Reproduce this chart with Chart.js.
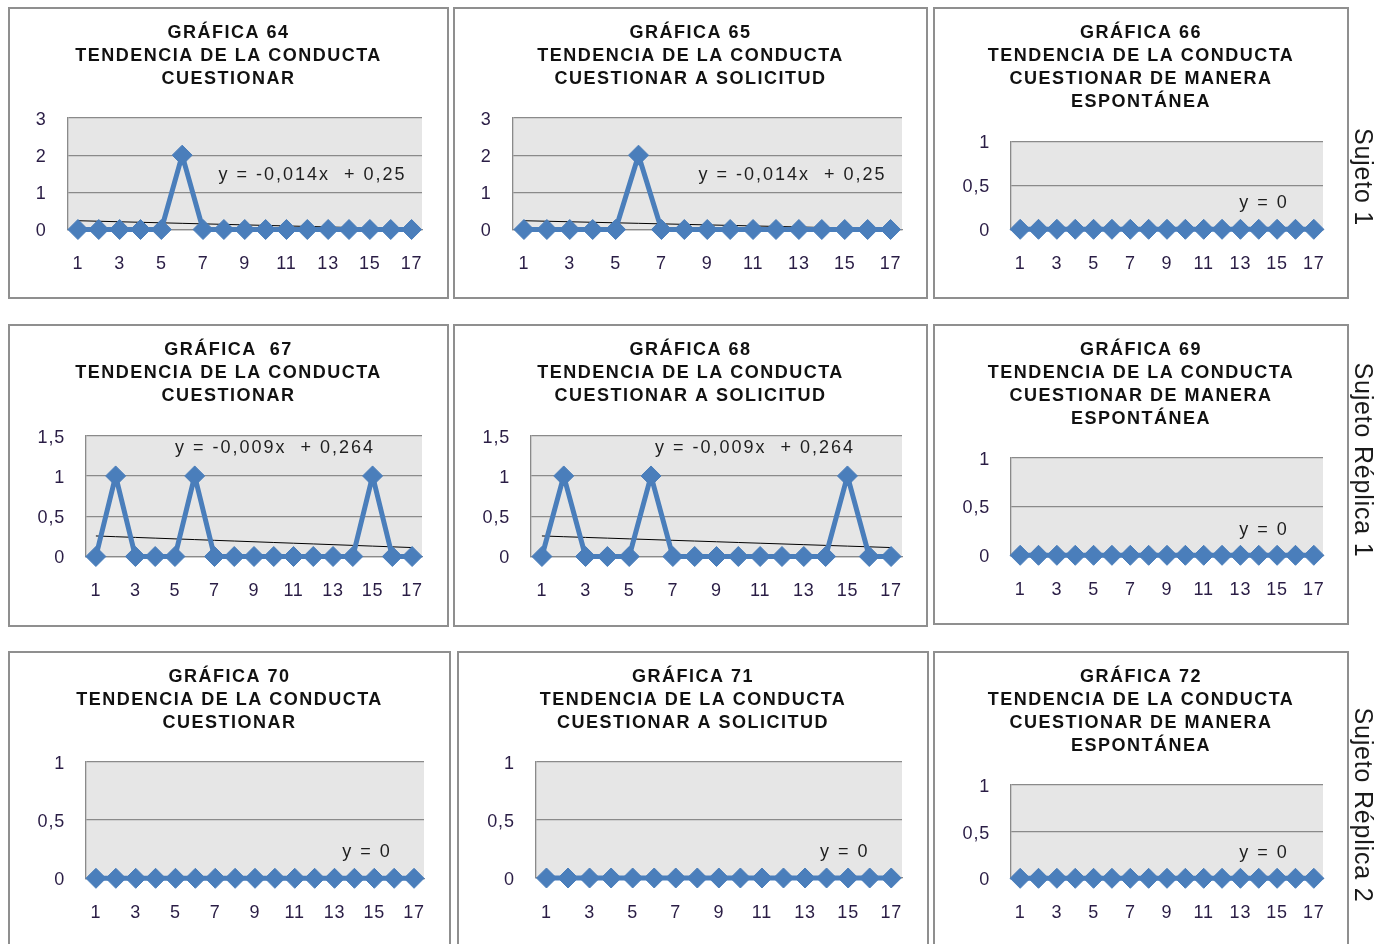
<!DOCTYPE html>
<html lang="es">
<head>
<meta charset="utf-8">
<title>Tendencia de la conducta cuestionar</title>
<script src="https://cdn.jsdelivr.net/npm/chart.js@4.4.1/dist/chart.umd.min.js"></script>
<style>
  html, body { margin: 0; padding: 0; background: #fff; width: 1376px; height: 944px; overflow: hidden; }
  .panel { position: absolute; }
  .panel canvas { position: absolute; left: 0; top: 0; }
  .frame { position: absolute; left: 0; top: 0; right: 0; bottom: 0; border: 2px solid #8f8f8f; box-sizing: border-box; pointer-events: none; }
  .subject { position: absolute; font-family: 'Liberation Sans', Arial, sans-serif; font-size: 25px; letter-spacing: 0.8px; color: #1a1a1a; white-space: nowrap; transform: translate(-50%, -50%) rotate(90deg); }
</style>
</head>
<body>
<script>
// Sessions on the x axis and the ones that carry a printed label
const sessions = ['1','2','3','4','5','6','7','8','9','10','11','12','13','14','15','16','17'];
const shownSessions = ['1','3','5','7','9','11','13','15','17'];

// Frequency of the behaviour per session
const g64 = [0,0,0,0,0,2,0,0,0,0,0,0,0,0,0,0,0];
const g65 = [0,0,0,0,0,2,0,0,0,0,0,0,0,0,0,0,0];
const g66 = [0,0,0,0,0,0,0,0,0,0,0,0,0,0,0,0,0];
const g67 = [0,1,0,0,0,1,0,0,0,0,0,0,0,0,1,0,0];
const g68 = [0,1,0,0,0,1,0,0,0,0,0,0,0,0,1,0,0];
const g69 = [0,0,0,0,0,0,0,0,0,0,0,0,0,0,0,0,0];
const g70 = [0,0,0,0,0,0,0,0,0,0,0,0,0,0,0,0,0];
const g71 = [0,0,0,0,0,0,0,0,0,0,0,0,0,0,0,0,0];
const g72 = [0,0,0,0,0,0,0,0,0,0,0,0,0,0,0,0,0];

// Linear trend of each graph (slope, intercept)
const trendSlopes     = [-0.014, -0.014, 0, -0.009, -0.009, 0, 0, 0, 0];
const trendIntercepts = [0.25, 0.25, 0, 0.264, 0.264, 0, 0, 0, 0];

// Y axis ranges: maximum and step
const yMaxima = [3, 3, 1, 1.5, 1.5, 1, 1, 1, 1];
const ySteps  = [1, 1, 0.5, 0.5, 0.5, 0.5, 0.5, 0.5, 0.5];

// Titles
const titles = [
  ['GRÁFICA 64', 'TENDENCIA DE LA CONDUCTA', 'CUESTIONAR'],
  ['GRÁFICA 65', 'TENDENCIA DE LA CONDUCTA', 'CUESTIONAR A SOLICITUD'],
  ['GRÁFICA 66', 'TENDENCIA DE LA CONDUCTA', 'CUESTIONAR DE MANERA', 'ESPONTÁNEA'],
  ['GRÁFICA  67', 'TENDENCIA DE LA CONDUCTA', 'CUESTIONAR'],
  ['GRÁFICA 68', 'TENDENCIA DE LA CONDUCTA', 'CUESTIONAR A SOLICITUD'],
  ['GRÁFICA 69', 'TENDENCIA DE LA CONDUCTA', 'CUESTIONAR DE MANERA', 'ESPONTÁNEA'],
  ['GRÁFICA 70', 'TENDENCIA DE LA CONDUCTA', 'CUESTIONAR'],
  ['GRÁFICA 71', 'TENDENCIA DE LA CONDUCTA', 'CUESTIONAR A SOLICITUD'],
  ['GRÁFICA 72', 'TENDENCIA DE LA CONDUCTA', 'CUESTIONAR DE MANERA', 'ESPONTÁNEA']
];
const series = [g64, g65, g66, g67, g68, g69, g70, g71, g72];

// Row labels on the right
const subjects = ['Sujeto 1', 'Sujeto Réplica 1', 'Sujeto Réplica 2'];

// ---- page layout (pixels) ----
const boxes = [
  { left: 8,   top: 7,   width: 441, height: 292, plot: { l: 67.5, t: 118,   r: 422,  b: 229.5 }, eq: [312.5, 175] },
  { left: 453, top: 7,   width: 475, height: 292, plot: { l: 512.5, t: 118,  r: 902,  b: 229.5 }, eq: [792.5, 175] },
  { left: 933, top: 7,   width: 416, height: 292, plot: { l: 1011, t: 141.5, r: 1323, b: 229.3 }, eq: [1264, 203.3] },
  { left: 8,   top: 324, width: 441, height: 303, plot: { l: 86,   t: 435.7, r: 422,  b: 556.5 }, eq: [275, 448.3] },
  { left: 453, top: 324, width: 475, height: 303, plot: { l: 531,  t: 435.7, r: 902,  b: 556.5 }, eq: [755, 448.3] },
  { left: 933, top: 324, width: 416, height: 301, plot: { l: 1011, t: 457.7, r: 1323, b: 555.3 }, eq: [1264, 530] },
  { left: 8,   top: 651, width: 443, height: 320, plot: { l: 86,   t: 762,   r: 424,  b: 878.3 }, eq: [367, 852.3] },
  { left: 457, top: 651, width: 472, height: 320, plot: { l: 535.7, t: 762,  r: 902,  b: 878 },   eq: [844.7, 852.3] },
  { left: 933, top: 651, width: 416, height: 320, plot: { l: 1011, t: 785,   r: 1323, b: 878.3 }, eq: [1264, 853.3] }
];
const subjectCenters = [[1363, 176.5], [1363, 460], [1363, 805]];

const FONT = "'Liberation Sans', Arial, sans-serif";
const BLUE = '#4a7ebb';
const GRID = '#8a8a8a';
const TICK = '#2a1d45';
const X_AXIS_HEIGHT = 50;
const TITLE_TOP = 15;
const TITLE_LINE = 23;

function commaNumber(v) {
  return String(Math.round(v * 1000) / 1000).replace('.', ',');
}
function equationText(m, b) {
  if (m === 0 && b === 0) return 'y = 0';
  const sign = b < 0 ? '  - ' : '  + ';
  return 'y = ' + commaNumber(m) + 'x' + sign + commaNumber(Math.abs(b));
}

// Grey plot background, per-layer letter spacing, and the trend equation
const panelDecor = {
  id: 'panelDecor',
  beforeDraw(chart, args, opts) {
    const { ctx, chartArea: a } = chart;
    ctx.save();
    ctx.fillStyle = '#e6e6e6';
    ctx.fillRect(a.left, a.top, a.right - a.left, a.bottom - a.top);
    ctx.restore();
    ctx.letterSpacing = '1.5px';
  },
  afterDatasetsDraw(chart) {
    chart.ctx.letterSpacing = '0.8px';
  },
  afterDraw(chart, args, opts) {
    const ctx = chart.ctx;
    ctx.save();
    ctx.letterSpacing = '2px';
    ctx.font = '18px ' + FONT;
    ctx.fillStyle = '#1e1e1e';
    ctx.textAlign = 'center';
    ctx.textBaseline = 'middle';
    ctx.fillText(opts.text, opts.x, opts.y);
    ctx.restore();
    ctx.letterSpacing = '0px';
  }
};

boxes.forEach((box, i) => {
  const wrap = document.createElement('div');
  wrap.className = 'panel';
  wrap.style.left = box.left + 'px';
  wrap.style.top = box.top + 'px';
  wrap.style.width = box.width + 'px';
  wrap.style.height = box.height + 'px';
  const canvas = document.createElement('canvas');
  canvas.width = box.width;
  canvas.height = box.height;
  canvas.style.width = box.width + 'px';
  canvas.style.height = box.height + 'px';
  wrap.appendChild(canvas);
  const frame = document.createElement('div');
  frame.className = 'frame';
  wrap.appendChild(frame);
  document.body.appendChild(wrap);

  const p = box.plot;
  // equal side padding keeps the title centred in the panel
  const padSide = box.left + box.width - p.r;
  const yWidth = p.l - box.left - padSide;
  const padBottom = box.top + box.height - p.b - X_AXIS_HEIGHT;
  const lines = titles[i].length;
  const titleBottom = (p.t - box.top) - TITLE_TOP - lines * TITLE_LINE;
  const m = trendSlopes[i], b = trendIntercepts[i];

  new Chart(canvas, {
    type: 'line',
    data: {
      labels: sessions,
      datasets: [
        {
          data: series[i],
          borderColor: BLUE,
          backgroundColor: BLUE,
          borderWidth: 5,
          tension: 0,
          pointStyle: 'rectRot',
          pointRadius: 10,
          pointBorderWidth: 1,
          pointBackgroundColor: BLUE,
          pointBorderColor: BLUE,
          clip: false
        },
        {
          data: sessions.map(s => m * Number(s) + b),
          borderColor: '#000',
          borderWidth: 1,
          pointRadius: 0,
          tension: 0,
          fill: false
        }
      ]
    },
    options: {
      responsive: false,
      devicePixelRatio: 1,
      animation: false,
      events: [],
      layout: { padding: { left: padSide, top: 0, right: padSide, bottom: padBottom } },
      plugins: {
        legend: { display: false },
        tooltip: { enabled: false },
        title: {
          display: true,
          text: titles[i],
          color: '#111',
          font: { family: FONT, size: 18, weight: 'bold', lineHeight: TITLE_LINE / 18 },
          padding: { top: TITLE_TOP, bottom: titleBottom }
        },
        panelDecor: {
          text: equationText(m, b),
          x: box.eq[0] - box.left,
          y: box.eq[1] - box.top
        }
      },
      scales: {
        x: {
          type: 'category',
          offset: true,
          grid: { display: false, drawTicks: false },
          border: { display: true, color: GRID, width: 1.3 },
          ticks: {
            autoSkip: false,
            maxRotation: 0,
            padding: 24,
            z: 1,
            color: TICK,
            font: { family: FONT, size: 18 },
            callback(value) {
              const lab = this.getLabelForValue(value);
              return shownSessions.includes(lab) ? lab : '';
            }
          },
          afterFit(scale) { scale.height = X_AXIS_HEIGHT; }
        },
        y: {
          min: 0,
          max: yMaxima[i],
          grid: { color: GRID, lineWidth: 1.3, drawTicks: false },
          border: { display: true, color: GRID, width: 1.3 },
          ticks: {
            stepSize: ySteps[i],
            padding: 21,
            labelOffset: 2,
            z: 1,
            color: TICK,
            font: { family: FONT, size: 18 },
            callback: v => commaNumber(v)
          },
          afterFit(scale) { scale.width = yWidth; }
        }
      }
    },
    plugins: [panelDecor]
  });
});

subjects.forEach((name, k) => {
  const d = document.createElement('div');
  d.className = 'subject';
  d.textContent = name;
  d.style.left = subjectCenters[k][0] + 'px';
  d.style.top = subjectCenters[k][1] + 'px';
  document.body.appendChild(d);
});
</script>
</body>
</html>
